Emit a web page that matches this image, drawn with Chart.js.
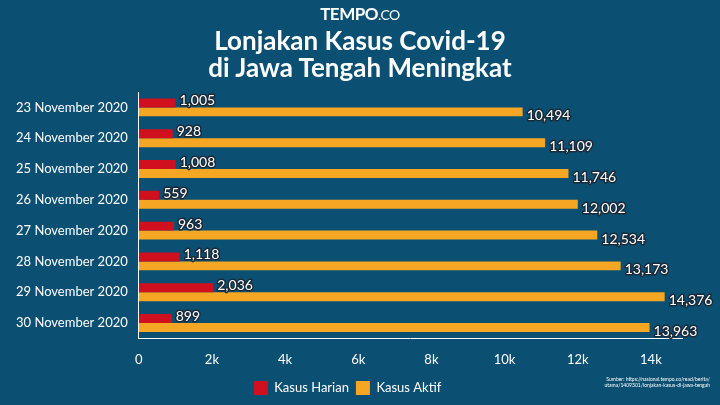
<!DOCTYPE html>
<html><head><meta charset="utf-8">
<script src="https://cdn.jsdelivr.net/npm/chart.js@4"></script>
<style>
html,body{margin:0;padding:0;background:#0b4f72;}
#wrap{position:relative;width:720px;height:405px;}
.logo{position:absolute;top:3px;left:0;width:720px;text-align:center;color:#fff;font:bold 17px "Lato";letter-spacing:-0.5px}
.logo span{font-weight:normal;font-size:14px}
h1{position:absolute;top:27px;left:0;width:720px;margin:0;text-align:center;color:#fff;font:bold 26px/27px "Lato";}
.src{position:absolute;right:10px;top:376px;color:#fff;font:5px "Lato";text-align:right;line-height:6px}
canvas{position:absolute;left:0;top:0}
</style></head><body>
<div id="wrap">
<canvas id="c" width="720" height="405"></canvas>
<div class="logo">TEMPO<span>.CO</span></div>
<h1>Lonjakan Kasus Covid-19<br>di Jawa Tengah Meningkat</h1>
<div class="src">Sumber: https://nasional.tempo.co/read/berita/<br>utama/1409301/lonjakan-kasus-di-jawa-tengah</div>
</div>
<script>
const categories = ['23 November 2020','24 November 2020','25 November 2020','26 November 2020','27 November 2020','28 November 2020','29 November 2020','30 November 2020'];
const kasusHarian = [1005, 928, 1008, 559, 963, 1118, 2036, 899];
const kasusAktif = [10494, 11109, 11746, 12002, 12534, 13173, 14376, 13963];
const tickValues = [0, 2000, 4000, 6000, 8000, 10000, 12000, 14000];

const COLOR = { harian: '#d0101f', aktif: '#f5a623', text: '#ffffff', bg: '#0b4f72' };

const valueLabels = {
  id: 'valueLabels',
  afterDatasetsDraw(chart) {
    const ctx = chart.ctx;
    ctx.save();
    ctx.font = '14px "Lato"';
    ctx.textBaseline = 'middle';
    ctx.lineJoin = 'round';
    chart.data.datasets.forEach((ds, di) => {
      chart.getDatasetMeta(di).data.forEach((bar, i) => {
        const txt = ds.data[i].toLocaleString('en-US');
        const x = bar.x + 4, y = bar.y + (di === 0 ? -2 : 4);
        ctx.lineWidth = 3; ctx.strokeStyle = '#1a2a38';
        ctx.strokeText(txt, x, y);
        ctx.fillStyle = '#fff';
        ctx.fillText(txt, x, y);
      });
    });
    ctx.restore();
  }
};

new Chart(document.getElementById('c'), {
  type: 'bar',
  data: {
    labels: categories,
    datasets: [
      { label: 'Kasus Harian', data: kasusHarian, backgroundColor: COLOR.harian, barPercentage: 1, categoryPercentage: 0.58 },
      { label: 'Kasus Aktif', data: kasusAktif, backgroundColor: COLOR.aktif, barPercentage: 1, categoryPercentage: 0.58 },
    ],
  },
  options: {
    indexAxis: 'y',
    responsive: false,
    animation: false,
    layout: { padding: { top: 92, right: 38, left: 13, bottom: 0 } },
    plugins: {
      legend: {
        position: 'bottom',
        labels: { color: COLOR.text, boxWidth: 14, boxHeight: 14, padding: 7, font: { family: 'Lato', size: 13 } },
      },
      tooltip: { enabled: false },
    },
    scales: {
      x: {
        min: 0, max: 14850,
        afterBuildTicks: s => { s.ticks = tickValues.map(v => ({ value: v })); },
        ticks: { color: COLOR.text, font: { family: 'Lato', size: 13 }, padding: 6, callback: v => v === 0 ? '0' : (v / 1000) + 'k' },
        grid: { display: false },
        border: { color: '#ffffff', width: 1 },
      },
      y: {
        ticks: { color: COLOR.text, font: { family: 'Lato', size: 13 } },
        grid: { display: false },
        border: { color: '#ffffff', width: 1 },
      },
    },
  },
  plugins: [valueLabels],
});
</script>
</body></html>
